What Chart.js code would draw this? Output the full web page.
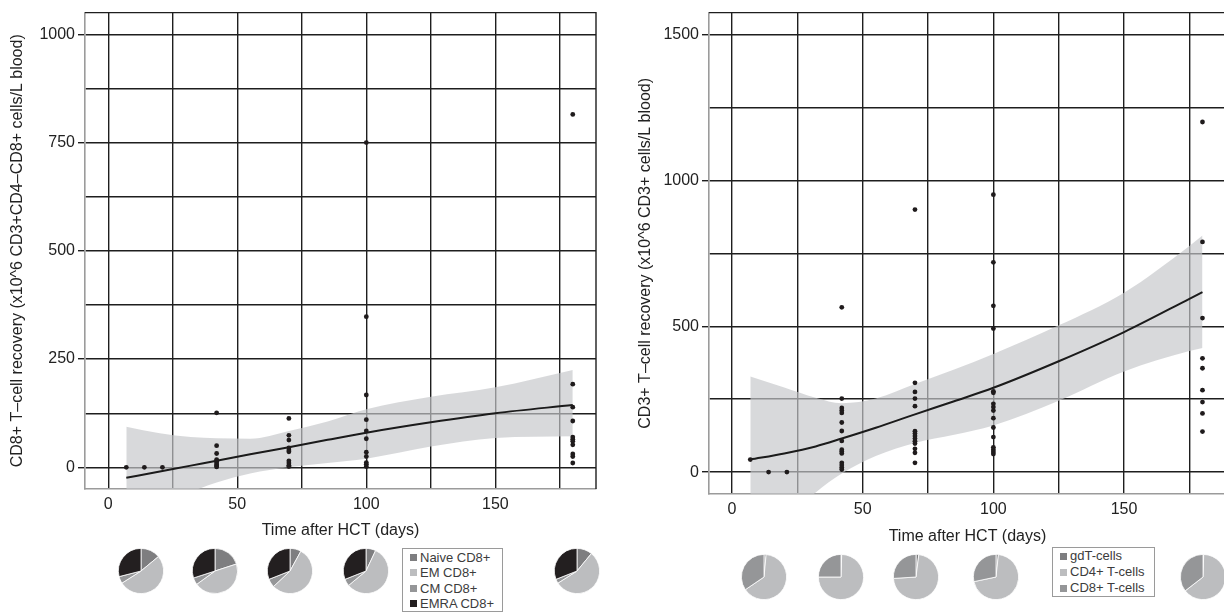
<!DOCTYPE html>
<html>
<head>
<meta charset="utf-8">
<title>T-cell recovery after HCT</title>
<script src="https://cdn.jsdelivr.net/npm/chart.js@4.4.1/dist/chart.umd.min.js"></script>
<style>
  body { margin: 0; width: 1224px; height: 613px; overflow: hidden; background: #fff; position: relative;
         font-family: "Liberation Sans", Arial, sans-serif; }
  canvas, .legend { position: absolute; }
  .legend { border: 1px solid #9a9a9a; background: #fff; font-size: 13px; color: #3c3c3c; box-sizing: border-box; }
  .legend div { position: relative; padding-left: 17px; white-space: nowrap; }
  .legend span { position: absolute; left: 7px; top: 50%; width: 7px; height: 7px; margin-top: -3.5px; }
</style>
</head>
<body>
<canvas id="cd8Chart" width="606" height="545" style="left:0;top:0"></canvas>
<canvas id="cd3Chart" width="624" height="551" style="left:612px;top:0"></canvas>
<div class="legend" id="cd8Legend" style="left:402px;top:548px;width:101px;height:64px;line-height:15.5px;padding-top:0.5px"></div>
<div class="legend" id="cd3Legend" style="left:1052px;top:547px;width:103px;height:50px;line-height:16px"></div>
<script>
// CD8+ recovery per patient sample (days after HCT, x10^6 cells/L)
const cd8Day = [7, 14, 21,
  42, 42, 42, 42, 42, 42, 42, 42, 42,
  70, 70, 70, 70, 70, 70, 70, 70, 70, 70,
  100, 100, 100, 100, 100, 100, 100, 100, 100, 100, 100,
  180, 180, 180, 180, 180, 180, 180, 180, 180, 180, 180];
const cd8Count = [0, 0, 0,
  126, 50, 32, 18, 14, 10, 6, 3, 1,
  113, 74, 63, 45, 40, 36, 15, 10, 5, 2,
  750, 348, 167, 110, 84, 66, 35, 25, 11, 7, 2,
  815, 192, 139, 107, 70, 65, 60, 52, 31, 25, 10];

// fitted CD8+ trend with its confidence band
const cd8FitDay = [7, 20, 32, 42, 55, 70, 85, 100, 125, 150, 180];
const cd8Fit = [-24, -9.5, 4, 15, 30, 46.5, 63.5, 80, 104, 125, 144];
const cd8Upper = [94, 79, 70, 67, 66, 84, 106, 134, 163, 185, 225];
const cd8Lower = [-150, -100, -58, -35, -14, 0, 10, 20, 48, 68, 72];

// CD3+ recovery per patient sample
const cd3Day = [7, 14, 21,
  42, 42, 42, 42, 42, 42, 42, 42, 42, 42, 42, 42, 42, 42, 42,
  70, 70, 70, 70, 70, 70, 70, 70, 70, 70, 70, 70, 70, 70,
  100, 100, 100, 100, 100, 100, 100, 100, 100, 100, 100, 100, 100, 100, 100, 100,
  180, 180, 180, 180, 180, 180, 180, 180, 180];
const cd3Count = [43, 0, 0,
  565, 252, 220, 211, 203, 170, 141, 107, 77, 71, 64, 32, 24, 16, 9,
  900, 306, 275, 252, 226, 140, 132, 124, 115, 106, 98, 80, 66, 32,
  951, 719, 570, 492, 277, 272, 234, 223, 211, 185, 153, 120, 85, 77, 69, 62,
  1200, 789, 528, 390, 356, 281, 240, 201, 139];

const cd3FitDay = [7, 20, 32, 42, 55, 70, 85, 100, 125, 150, 175, 180];
const cd3Fit = [43, 64, 88, 115, 152, 198, 243, 289, 380, 480, 594, 617];
const cd3Upper = [328, 290, 255, 236, 252, 302, 352, 405, 503, 615, 775, 811];
const cd3Lower = [-420, -170, -70, -5, 55, 100, 128, 160, 245, 345, 415, 425];

// subset composition (%) at days 14, 42, 70, 100, 180
const cd8SubsetNames = ['Naive CD8+', 'EM CD8+', 'CM CD8+', 'EMRA CD8+'];
const naiveShare = [14, 20, 8, 7, 11];
const emShare = [52, 45, 55, 57, 55];
const cmShare = [5, 5, 6, 5, 3];
const emraShare = [29, 30, 31, 31, 31];

const cd3SubsetNames = ['gdT-cells', 'CD4+ T-cells', 'CD8+ T-cells'];
const gdtShare = [1.5, 0.5, 2, 1.7, 0.5];
const cd4Share = [64, 74.5, 72, 70, 64];
const cd8Share = [34.5, 25, 26, 28.3, 35.5];

const cd8Colors = ['#7e7e80', '#bcbdbf', '#959698', '#231f20'];
const cd3Colors = ['#7e7e80', '#bcbdbf', '#959698'];

const FONT = { family: "'Liberation Sans', Arial, sans-serif", size: 16 };
const INK = '#1e1e1e';

const toPoints = (xs, ys) => xs.map((x, i) => ({ x, y: ys[i] }));

// black top/right frame; the left and bottom axes stay grey
const plotFrame = {
  id: 'plotFrame',
  beforeDatasetsDraw(chart) {
    const { ctx, chartArea: a } = chart;
    ctx.save();
    ctx.strokeStyle = INK;
    ctx.lineWidth = 1.4;
    ctx.beginPath();
    ctx.moveTo(a.left, a.top);
    ctx.lineTo(a.right, a.top);
    ctx.lineTo(a.right, a.bottom);
    ctx.stroke();
    ctx.restore();
  }
};

function drawPanel(id, p) {
  const curve = { type: 'line', pointRadius: 0, cubicInterpolationMode: 'monotone' };
  new Chart(document.getElementById(id), {
    type: 'scatter',
    data: {
      datasets: [
        { ...curve, data: toPoints(p.fitDay, p.upper), borderWidth: 0, fill: '+1',
          backgroundColor: 'rgba(198,199,202,0.68)', order: 3 },
        { ...curve, data: toPoints(p.fitDay, p.lower), borderWidth: 0, fill: false, order: 3 },
        { ...curve, data: toPoints(p.fitDay, p.fit), borderColor: '#1b1b1b', borderWidth: 2,
          fill: false, order: 2 },
        { data: toPoints(p.day, p.count), pointRadius: 2.4, backgroundColor: '#1f1b1c',
          borderWidth: 0, order: 1 }
      ]
    },
    options: {
      responsive: false,
      animation: false,
      devicePixelRatio: 1,
      layout: { padding: { top: 10, right: 10, left: 0, bottom: 0 } },
      plugins: { legend: { display: false }, tooltip: { enabled: false } },
      scales: {
        x: {
          type: 'linear', min: p.xMin, max: 189,
          afterFit: s => { s.height = p.xAxisHeight; },
          ticks: { stepSize: 25, includeBounds: false, autoSkip: false, maxRotation: 0, padding: 6,
                   color: '#222', font: FONT, callback: v => (v % 50 === 0 ? String(v) : '') },
          grid: { color: INK, lineWidth: 1.4, drawTicks: false },
          border: { color: '#9b9b9b', width: 1.6 },
          title: { display: true, text: 'Time after HCT (days)', color: '#222', font: FONT,
                   padding: { top: 0, bottom: 5 } }
        },
        y: {
          min: p.yMin, max: p.yMax,
          afterFit: s => { s.width = p.yAxisWidth; },
          ticks: { stepSize: p.gridStep, includeBounds: false, autoSkip: false, padding: 3,
                   color: '#222', font: FONT,
                   callback: v => (v % p.labelStep === 0 ? String(v) : '') },
          grid: { color: INK, lineWidth: 1.4, tickLength: 7,
                  tickColor: c => (c.tick && c.tick.value % p.labelStep === 0 ? INK : 'rgba(0,0,0,0)') },
          border: { color: '#9b9b9b', width: 1.6 },
          title: { display: true, text: p.title, color: '#222', font: FONT,
                   padding: { top: p.titleInset, bottom: 0 } }
        }
      }
    },
    plugins: [plotFrame]
  });
}

drawPanel('cd8Chart', {
  day: cd8Day, count: cd8Count, fitDay: cd8FitDay, fit: cd8Fit, upper: cd8Upper, lower: cd8Lower,
  xMin: -9, yMin: -50, yMax: 1050, gridStep: 125, labelStep: 250,
  xAxisHeight: 56, yAxisWidth: 85, titleInset: 8,
  title: 'CD8+ T\u2013cell recovery (x10^6 CD3+CD4\u2013CD8+ cells/L blood)'
});

drawPanel('cd3Chart', {
  day: cd3Day, count: cd3Count, fitDay: cd3FitDay, fit: cd3Fit, upper: cd3Upper, lower: cd3Lower,
  xMin: -8.8, yMin: -75, yMax: 1575, gridStep: 250, labelStep: 500,
  xAxisHeight: 57, yAxisWidth: 97, titleInset: 24,
  title: 'CD3+ T\u2013cell recovery (x10^6 CD3+ cells/L blood)'
});

// small composition pies under each panel
function drawPie(cx, cy, values, colors) {
  const c = document.createElement('canvas');
  c.width = 46;
  c.height = 46;
  c.style.left = (cx - 23) + 'px';
  c.style.top = (cy - 23) + 'px';
  document.body.appendChild(c);
  new Chart(c, {
    type: 'pie',
    data: { datasets: [{ data: values, backgroundColor: colors, borderColor: '#fff', borderWidth: 0.8 }] },
    options: {
      responsive: false, animation: false, devicePixelRatio: 1,
      layout: { padding: 0 },
      plugins: { legend: { display: false }, tooltip: { enabled: false } }
    }
  });
}

const cd8PieX = [141, 215, 290, 366, 577];
const cd3PieX = [764, 841, 916, 996, 1203];
cd8PieX.forEach((x, i) => drawPie(x, 571, [naiveShare[i], emShare[i], cmShare[i], emraShare[i]], cd8Colors));
cd3PieX.forEach((x, i) => drawPie(x, 577, [gdtShare[i], cd4Share[i], cd8Share[i]], cd3Colors));

function fillLegend(id, names, colors) {
  document.getElementById(id).innerHTML = names
    .map((n, i) => `<div><span style="background:${colors[i]}"></span>${n}</div>`)
    .join('');
}
fillLegend('cd8Legend', cd8SubsetNames, cd8Colors);
fillLegend('cd3Legend', cd3SubsetNames, cd3Colors);
</script>
</body>
</html>
